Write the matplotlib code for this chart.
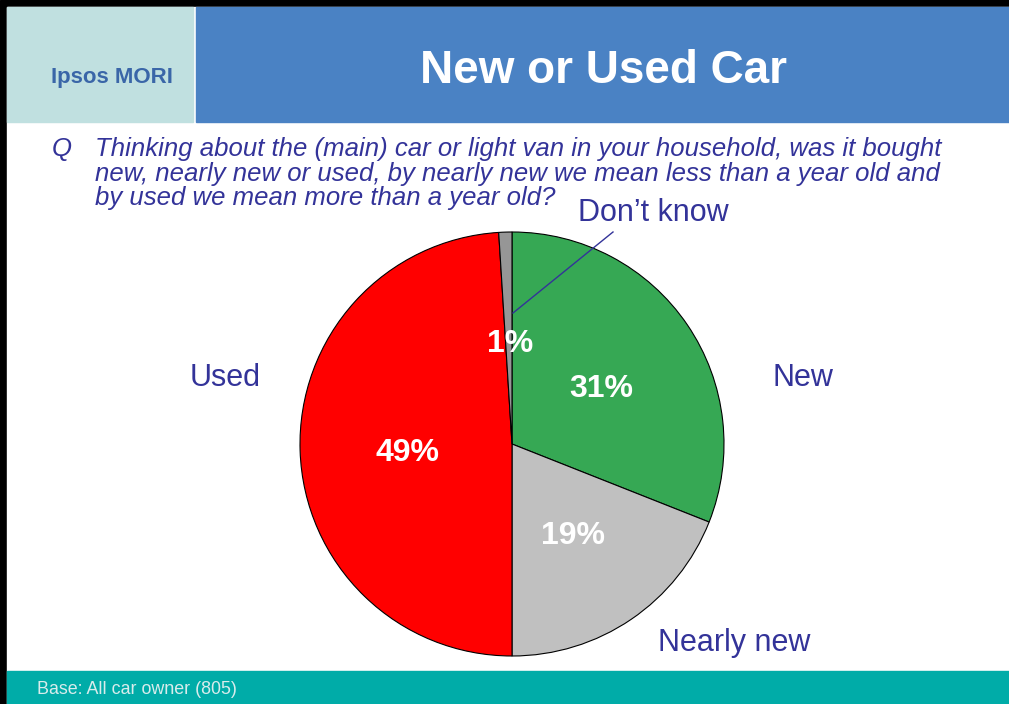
import matplotlib
matplotlib.use("Agg")
import matplotlib.pyplot as plt
from matplotlib.patches import Rectangle

plt.rcParams['font.family'] = ['Liberation Sans', 'DejaVu Sans']

# data
categories = ["New", "Nearly new", "Used", "Don\u2019t know"]
shares = [31, 19, 49, 1]
slice_colors = ["#36A854", "#C0C0C0", "#FF0000", "#969696"]
title = "New or Used Car"
question_lines = [
    "Thinking about the (main) car or light van in your household, was it bought",
    "new, nearly new or used, by nearly new we mean less than a year old and",
    "by used we mean more than a year old?",
]
base_note = "Base: All car owner (805)"

W, H = 1009, 704
fig = plt.figure(figsize=(W / 100, H / 100), dpi=100)
ax = fig.add_axes([0, 0, 1, 1])


def Y(y):
    # pixel row from top -> data y
    return H - y


# pie first, then fix the frame
cx, cy, r = 512, Y(444), 212
wedges, _ = ax.pie(shares, colors=slice_colors, startangle=90, counterclock=False,
                   center=(cx, cy), radius=r, frame=True,
                   wedgeprops=dict(edgecolor='black', linewidth=0.8))
for w in wedges:
    w.set_zorder(3)
ax.set_xlim(0, W)
ax.set_ylim(0, H)
ax.set_aspect('equal')
ax.axis('off')

# frame / header / footer
ax.add_patch(Rectangle((0, 0), W, H, color='black', zorder=0))
ax.add_patch(Rectangle((7, 0), W - 7, Y(7), color='white', zorder=0))
ax.add_patch(Rectangle((7, Y(122)), 186, 115, color='#C0E0E0', zorder=1))
ax.add_patch(Rectangle((196, Y(122)), W - 196, 115, color='#4A82C4', zorder=1))
ax.add_patch(Rectangle((7, 0), W - 7, Y(671), color='#00ACA8', zorder=1))

ax.text(112, Y(78), "Ipsos MORI", color='#3A66A8', fontsize=16, fontweight='bold',
        ha='center', va='center', zorder=2)
ax.text(603, Y(71), title, color='white', fontsize=33, fontweight='bold',
        ha='center', va='center', zorder=2)
ax.text(37, Y(690), base_note, color='#D8ECEC', fontsize=12.9,
        ha='left', va='center', zorder=2)

# question
ax.text(52, Y(156), "Q", color='#333399', fontsize=18.5, style='italic',
        ha='left', va='baseline', zorder=2)
for i, line in enumerate(question_lines):
    ax.text(95, Y(156 + 24.5 * i), line, color='#333399', fontsize=18.5,
            style='italic', ha='left', va='baseline', zorder=2)

pct_pos = [(601, 389), (573, 536), (407, 453), (510, 344)]
for (px, py), s in zip(pct_pos, shares):
    ax.text(px, Y(py), f"{s}%", color='white', fontsize=23, fontweight='bold',
            ha='center', va='center', zorder=4)

label_pos = [(803, 378), (734, 643), (225, 378), (653, 213)]
for (px, py), c in zip(label_pos, categories):
    ax.text(px, Y(py), c, color='#333399', fontsize=22,
            ha='center', va='center', zorder=4)

# leader line for Don't know
ax.plot([613, 513], [Y(232), Y(313)], color='#333399', linewidth=1, zorder=5)

fig.savefig("out.png", dpi=100)
